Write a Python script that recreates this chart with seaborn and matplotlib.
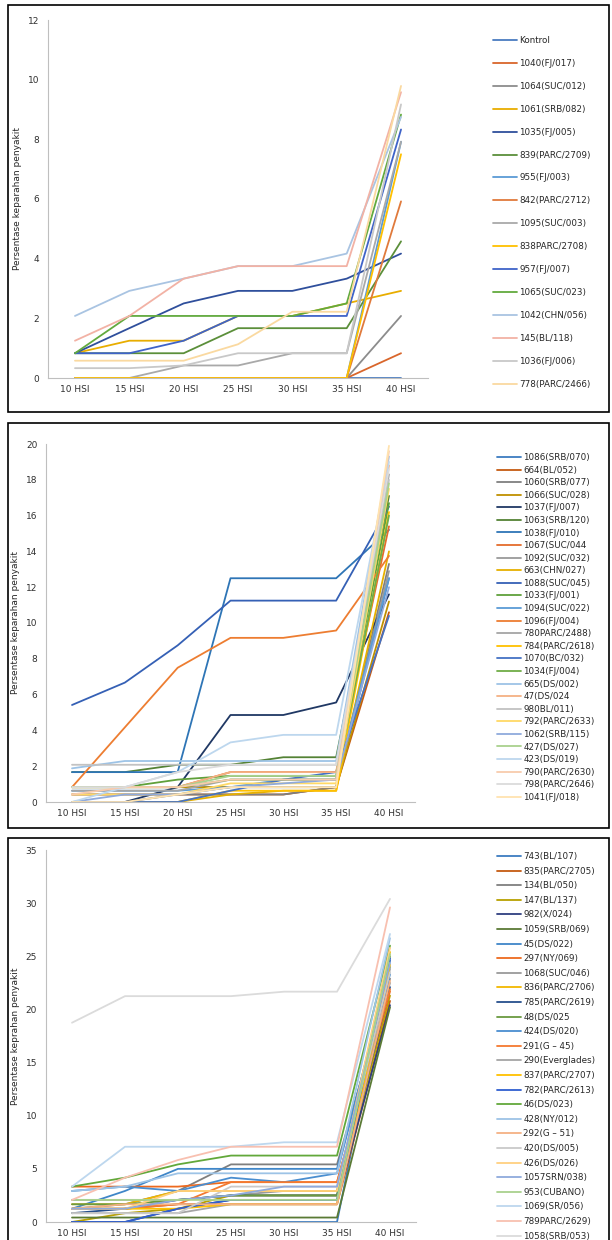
import matplotlib
matplotlib.use("Agg")
import numpy as np
import pandas as pd
import matplotlib.pyplot as plt
import seaborn as sns
from matplotlib.patches import Rectangle

# x categories (hari setelah inokulasi)
hsi = ['10 HSI', '15 HSI', '20 HSI', '25 HSI', '30 HSI', '35 HSI', '40 HSI']

# panel 1
p1_names = ['Kontrol', '1040(FJ/017)', '1064(SUC/012)', '1061(SRB/082)', '1035(FJ/005)',
            '839(PARC/2709)', '955(FJ/003)', '842(PARC/2712)', '1095(SUC/003)', '838PARC/2708)',
            '957(FJ/007)', '1065(SUC/023)', '1042(CHN/056)', '145(BL/118)', '1036(FJ/006)',
            '778(PARC/2466)']
p1_colors = ['#4a7cc0', '#d9662b', '#8c8c8c', '#e8ad00', '#2f4f9c', '#5b8f3a',
             '#5b9bd5', '#e07a3c', '#a9a9a9', '#ffc000', '#3f63c8', '#62aa3e',
             '#a9c4e2', '#f2b2a5', '#c8c8c8', '#fad9a0']
p1_values = [
    [0, 0, 0, 0, 0, 0, 0],
    [0, 0, 0, 0, 0, 0, 0.83],
    [0, 0, 0, 0, 0, 0, 2.08],
    [0.83, 1.25, 1.25, 2.08, 2.08, 2.5, 2.92],
    [0.83, 1.67, 2.5, 2.92, 2.92, 3.33, 4.17],
    [0.83, 0.83, 0.83, 1.67, 1.67, 1.67, 4.58],
    [0, 0, 0, 0, 0, 0, 7.92],
    [0, 0, 0, 0, 0, 0, 5.92],
    [0, 0, 0.42, 0.42, 0.83, 0.83, 7.92],
    [0, 0, 0, 0, 0, 0, 7.5],
    [0.83, 0.83, 1.25, 2.08, 2.08, 2.08, 8.33],
    [0.83, 2.08, 2.08, 2.08, 2.08, 2.5, 8.83],
    [2.08, 2.92, 3.33, 3.75, 3.75, 4.17, 8.75],
    [1.25, 2.08, 3.33, 3.75, 3.75, 3.75, 9.58],
    [0.33, 0.33, 0.42, 0.83, 0.83, 0.83, 9.17],
    [0.58, 0.58, 0.58, 1.13, 2.22, 2.22, 9.79],
]

# panel 2
p2_names = ['1086(SRB/070)', '664(BL/052)', '1060(SRB/077)', '1066(SUC/028)', '1037(FJ/007)',
            '1063(SRB/120)', '1038(FJ/010)', '1067(SUC/044', '1092(SUC/032)', '663(CHN/027)',
            '1088(SUC/045)', '1033(FJ/001)', '1094(SUC/022)', '1096(FJ/004)', '780PARC/2488)',
            '784(PARC/2618)', '1070(BC/032)', '1034(FJ/004)', '665(DS/002)', '47(DS/024',
            '980BL/011)', '792(PARC/2633)', '1062(SRB/115)', '427(DS/027)', '423(DS/019)',
            '790(PARC/2630)', '798(PARC/2646)', '1041(FJ/018)']
p2_colors = ['#3d7cc0', '#c55a11', '#7f7f7f', '#bf9000', '#203864', '#548235',
             '#2e75b6', '#e46c2c', '#9a9a9a', '#e6b000', '#3560b5', '#5fa03a',
             '#5b9bd5', '#ed7d31', '#a5a5a5', '#ffc000', '#4472c4', '#70ad47',
             '#9dc3e6', '#f4b183', '#c2c2c2', '#ffd966', '#8faadc', '#a9d18e',
             '#bdd7ee', '#f8cbad', '#dbdbdb', '#ffe3b0']
p2_values = [
    [0.83, 0.83, 0.83, 0.83, 0.83, 0.83, 12.5],
    [0.42, 0.42, 0.42, 0.42, 0.42, 0.83, 10.6],
    [0, 0, 0.42, 0.42, 0.42, 0.83, 13.3],
    [0.83, 0.83, 0.83, 0.83, 0.83, 0.83, 11.2],
    [0, 0, 0.83, 4.86, 4.86, 5.56, 11.6],
    [1.67, 1.67, 2.08, 2.08, 2.5, 2.5, 17.1],
    [1.67, 1.67, 1.67, 12.5, 12.5, 12.5, 15.2],
    [0.83, 0.83, 0.83, 1.67, 1.67, 1.67, 15.4],
    [0.42, 0.42, 0.42, 0.83, 0.83, 0.83, 12.9],
    [0, 0, 0, 0.42, 0.63, 0.63, 14.0],
    [5.42, 6.67, 8.75, 11.25, 11.25, 11.25, 16.5],
    [0.83, 0.83, 1.25, 1.46, 1.46, 1.46, 16.7],
    [0.63, 0.63, 0.63, 0.83, 1.25, 1.25, 12.5],
    [0.83, 4.17, 7.5, 9.17, 9.17, 9.58, 13.75],
    [0.63, 0.63, 0.63, 1.25, 1.25, 1.25, 18.3],
    [0, 0, 0, 0.63, 0.63, 0.63, 16.2],
    [0, 0, 0, 0.63, 1.25, 1.67, 10.4],
    [0.83, 0.83, 0.83, 1.25, 1.25, 1.25, 16.0],
    [1.88, 2.29, 2.29, 2.29, 2.29, 2.29, 19.3],
    [0.83, 0.83, 0.83, 1.67, 1.67, 1.67, 18.8],
    [2.08, 2.08, 2.08, 2.08, 2.08, 2.08, 18.0],
    [0.42, 0.42, 0.42, 1.04, 1.04, 1.04, 17.5],
    [0, 0.42, 0.42, 0.83, 1.04, 1.25, 12.0],
    [0.83, 0.83, 0.83, 1.46, 1.46, 1.46, 17.8],
    [0, 0.83, 1.67, 3.33, 3.75, 3.75, 19.0],
    [0.42, 0.83, 0.83, 1.25, 1.25, 1.25, 19.6],
    [0.83, 0.83, 1.67, 2.08, 2.08, 2.08, 18.6],
    [0, 0, 0.42, 0.83, 0.83, 0.83, 19.9],
]

# panel 3
p3_names = ['743(BL/107)', '835(PARC/2705)', '134(BL/050)', '147(BL/137)', '982(X/024)',
            '1059(SRB/069)', '45(DS/022)', '297(NY/069)', '1068(SUC/046)', '836(PARC/2706)',
            '785(PARC/2619)', '48(DS/025', '424(DS/020)', '291(G – 45)', '290(Everglades)',
            '837(PARC/2707)', '782(PARC/2613)', '46(DS/023)', '428(NY/012)', '292(G – 51)',
            '420(DS/005)', '426(DS/026)', '1057SRN/038)', '953(CUBANO)', '1069(SR/056)',
            '789PARC/2629)', '1058(SRB/053)']
p3_colors = ['#3d7cc0', '#c55a11', '#7f7f7f', '#b8a000', '#2f3f80', '#5a7a35',
             '#3f86c8', '#ed6a1f', '#9a9a9a', '#f2b800', '#264f8c', '#6a9a40',
             '#4a8ed0', '#f47a30', '#a5a5a5', '#ffc000', '#2f5fd0', '#62a83a',
             '#9dc3e6', '#f4b183', '#c9c9c9', '#ffd080', '#8faadc', '#a9d18e',
             '#bdd7ee', '#f8c0b0', '#dbdbdb']
p3_values = [
    [0, 0, 0, 0, 0, 0, 24.6],
    [1.25, 1.25, 1.67, 1.67, 1.67, 1.67, 20.8],
    [1.25, 1.67, 2.92, 5.42, 5.42, 5.42, 22.9],
    [0, 0.83, 1.25, 2.5, 2.5, 2.5, 21.3],
    [0, 0, 1.25, 2.08, 2.08, 2.08, 20.4],
    [0.42, 0.42, 0.42, 0.42, 0.42, 0.42, 20.2],
    [1.25, 2.92, 5.0, 5.0, 5.0, 5.0, 23.3],
    [3.33, 3.33, 3.33, 3.75, 3.75, 3.75, 21.7],
    [2.08, 2.08, 2.08, 2.5, 2.92, 2.92, 22.5],
    [1.67, 1.67, 2.92, 2.92, 2.92, 2.92, 25.4],
    [0.83, 1.25, 2.08, 2.5, 2.5, 2.5, 22.1],
    [1.67, 1.67, 2.08, 2.5, 2.5, 2.5, 25.0],
    [2.92, 3.33, 2.92, 4.17, 3.75, 4.58, 24.0],
    [1.25, 1.25, 1.67, 3.75, 3.75, 3.75, 21.9],
    [0.83, 0.83, 0.83, 1.67, 1.67, 1.67, 23.8],
    [1.25, 1.25, 1.25, 1.67, 1.67, 1.67, 24.2],
    [0, 0, 1.25, 2.08, 2.08, 2.08, 24.8],
    [3.33, 4.17, 5.42, 6.25, 6.25, 6.25, 26.0],
    [2.92, 3.33, 4.58, 4.58, 4.58, 4.58, 26.7],
    [1.25, 1.67, 1.67, 1.67, 1.67, 1.67, 22.7],
    [0.83, 0.83, 0.83, 3.33, 3.33, 3.33, 23.5],
    [1.25, 1.25, 2.92, 2.92, 2.92, 2.92, 25.8],
    [1.25, 1.25, 2.08, 2.5, 3.33, 3.33, 24.4],
    [2.08, 2.08, 2.08, 2.08, 2.08, 2.08, 25.2],
    [3.33, 7.08, 7.08, 7.08, 7.5, 7.5, 27.1],
    [2.08, 4.17, 5.83, 7.08, 7.08, 7.08, 29.6],
    [18.75, 21.25, 21.25, 21.25, 21.67, 21.67, 30.4],
]

sns.set_style('white')
plt.rcParams['font.family'] = ['DejaVu Sans']

fig = plt.figure(figsize=(6.12, 12.4), dpi=100)
W, H = 612.0, 1240.0


def draw_panel(rect, names, colors, values, ymax, ystep, ylabel, leg_xy, leg_space):
    left, top, right, bottom = rect
    ax = fig.add_axes([left / W, 1 - bottom / H, (right - left) / W, (bottom - top) / H])
    df = pd.DataFrame([(n, h, v) for n, row in zip(names, values) for h, v in zip(hsi, row)],
                      columns=['seri', 'hsi', 'nilai'])
    sns.lineplot(data=df, x='hsi', y='nilai', hue='seri', hue_order=names,
                 palette=dict(zip(names, colors)), linewidth=1.3, sort=False,
                 errorbar=None, ax=ax)
    ax.set_xlim(-0.5, 6.5)
    ax.set_ylim(0, ymax)
    ax.set_yticks(np.arange(0, ymax + 0.1, ystep))
    ax.set_xticks(np.arange(-0.5, 7, 1), minor=True)
    ax.tick_params(axis='x', which='major', length=0, labelsize=6.5, labelcolor='#303030', pad=5)
    ax.tick_params(axis='x', which='minor', length=4, color='#bfbfbf', direction='out')
    ax.tick_params(axis='y', length=3, color='#bfbfbf', labelsize=6.5, labelcolor='#303030', pad=3)
    for s in ['top', 'right']:
        ax.spines[s].set_visible(False)
    for s in ['left', 'bottom']:
        ax.spines[s].set_color('#bfbfbf')
        ax.spines[s].set_linewidth(0.8)
    ax.set_xlabel('')
    ax.set_ylabel(ylabel, fontsize=6.5)
    ax.yaxis.set_label_coords(-0.068, 0.5)
    sns.move_legend(ax, 'upper left', bbox_to_anchor=(leg_xy[0] / W, 1 - leg_xy[1] / H),
                    bbox_transform=fig.transFigure, frameon=False, title=None,
                    fontsize=6.3, labelspacing=leg_space, handlelength=2.7,
                    handletextpad=0.3, borderpad=0, borderaxespad=0)
    return ax


draw_panel((47.8, 20, 428.2, 378), p1_names, p1_colors, p1_values, 12, 2,
           'Persentase keparahan penyakit', (493, 36), 1.59)
draw_panel((45.6, 444, 415.4, 802), p2_names, p2_colors, p2_values, 20, 2,
           'Persentase keparahan penyakit', (497, 453), 0.41)
draw_panel((45.5, 850, 416.5, 1222), p3_names, p3_colors, p3_values, 35, 5,
           'Persentase keprahan penyakit', (497, 852), 0.64)

# panel borders
for y0, y1 in [(5, 412), (423, 828), (838, 1250)]:
    fig.patches.append(Rectangle((8 / W, 1 - y1 / H), 601 / W, (y1 - y0) / H,
                                 transform=fig.transFigure, fill=False,
                                 edgecolor='black', linewidth=1.2))

fig.savefig('out.png', dpi=100)
